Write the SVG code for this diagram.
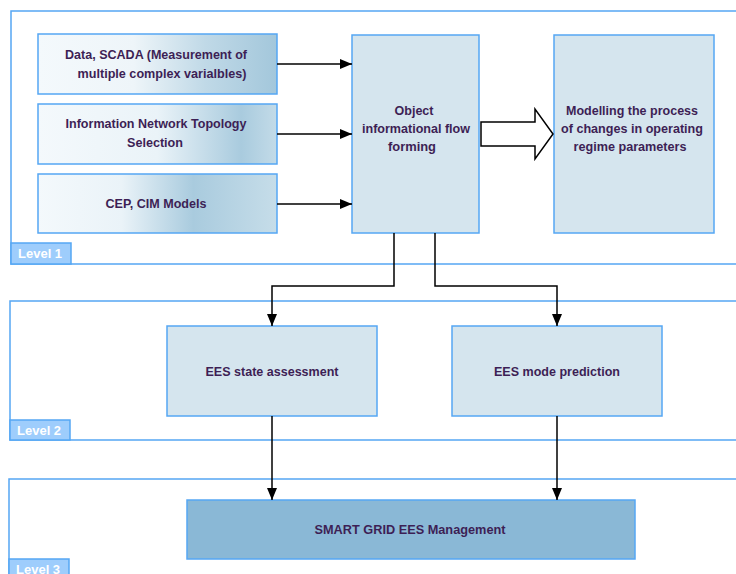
<svg xmlns="http://www.w3.org/2000/svg" width="736" height="574" viewBox="0 0 736 574">
  <style>
    .lvl { fill: none; stroke: #55a7f4; stroke-width: 1.5; }
    .tag { fill: #9ecdfc; stroke: #55a7f4; stroke-width: 1.5; }
    .tagtxt { font-family: "Liberation Sans", Arial, sans-serif; font-weight: bold; font-size: 13px; fill: #ffffff; }
    .node { stroke: #55a7f4; stroke-width: 1.5; }
    .plain { fill: #d5e5ee; }
    .main { fill: #8ab8d6; }
    .txt { font-family: "Liberation Sans", Arial, sans-serif; font-weight: bold; font-size: 13px; fill: #3d1f55; text-anchor: middle; }
    .wire { fill: none; stroke: #000; stroke-width: 1.5; }
  </style>
  <defs>
    <linearGradient id="g1" x1="0" y1="0" x2="1" y2="0">
      <stop offset="0" stop-color="#f4f9fc"/>
      <stop offset="0.4" stop-color="#eef5f9"/>
      <stop offset="0.7" stop-color="#c0d9e7"/>
      <stop offset="1" stop-color="#a3c7db"/>
    </linearGradient>
    <linearGradient id="g2" x1="0" y1="0" x2="1" y2="0">
      <stop offset="0" stop-color="#f4f9fc"/>
      <stop offset="0.5" stop-color="#eaf3f8"/>
      <stop offset="0.85" stop-color="#a9cbde"/>
      <stop offset="1" stop-color="#c3dbe8"/>
    </linearGradient>
    <linearGradient id="g3" x1="0" y1="0" x2="1" y2="0">
      <stop offset="0" stop-color="#f4f9fc"/>
      <stop offset="0.35" stop-color="#eaf3f8"/>
      <stop offset="0.65" stop-color="#a9cbde"/>
      <stop offset="1" stop-color="#c6dde9"/>
    </linearGradient>
    <marker id="arr" viewBox="0 0 12 10" refX="12" refY="5" markerWidth="12" markerHeight="10" markerUnits="userSpaceOnUse" orient="auto">
      <path d="M0,0 L12,5 L0,10 Z" fill="#000"/>
    </marker>
  </defs>

  <!-- level frames -->
  <g id="level1">
    <path class="lvl" d="M740,11 H11 V264 H740"/>
    <rect class="tag" x="11" y="243" width="60" height="21"/>
    <text class="tagtxt" x="18" y="258">Level 1</text>
  </g>
  <g id="level2">
    <path class="lvl" d="M740,301 H10 V440 H740"/>
    <rect class="tag" x="10" y="420" width="60" height="20"/>
    <text class="tagtxt" x="17" y="435">Level 2</text>
  </g>
  <g id="level3">
    <path class="lvl" d="M740,479 H9 V580"/>
    <rect class="tag" x="9" y="559" width="60" height="20"/>
    <text class="tagtxt" x="16" y="574">Level 3</text>
  </g>

  <!-- nodes -->
  <g id="data-scada">
    <rect class="node" fill="url(#g1)" x="38" y="34" width="239" height="60"/>
    <text class="txt" x="156" y="59" textLength="182" lengthAdjust="spacingAndGlyphs">Data, SCADA (Measurement of</text>
    <text class="txt" x="162" y="78" textLength="169" lengthAdjust="spacingAndGlyphs">multiple complex varialbles)</text>
  </g>
  <g id="topology">
    <rect class="node" fill="url(#g2)" x="38" y="104" width="239" height="60"/>
    <text class="txt" x="156" y="128" textLength="181" lengthAdjust="spacingAndGlyphs">Information Network Topology</text>
    <text class="txt" x="155" y="147" textLength="56" lengthAdjust="spacingAndGlyphs">Selection</text>
  </g>
  <g id="cep-cim">
    <rect class="node" fill="url(#g3)" x="38" y="174" width="239" height="59"/>
    <text class="txt" x="156" y="208" textLength="101" lengthAdjust="spacingAndGlyphs">CEP, CIM Models</text>
  </g>
  <g id="flow-forming">
    <rect class="node plain" x="352" y="35" width="127" height="198"/>
    <text class="txt" x="414" y="115" textLength="39" lengthAdjust="spacingAndGlyphs">Object</text>
    <text class="txt" x="416" y="133" textLength="108" lengthAdjust="spacingAndGlyphs">informational flow</text>
    <text class="txt" x="412" y="151" textLength="48" lengthAdjust="spacingAndGlyphs">forming</text>
  </g>
  <g id="modelling">
    <rect class="node plain" x="554" y="35" width="160" height="198"/>
    <text class="txt" x="632" y="115" textLength="132" lengthAdjust="spacingAndGlyphs">Modelling the process</text>
    <text class="txt" x="632" y="133" textLength="142" lengthAdjust="spacingAndGlyphs">of changes in operating</text>
    <text class="txt" x="630" y="151" textLength="113" lengthAdjust="spacingAndGlyphs">regime parameters</text>
  </g>
  <g id="state-assessment">
    <rect class="node plain" x="167" y="326" width="210" height="90"/>
    <text class="txt" x="272" y="376" textLength="133" lengthAdjust="spacingAndGlyphs">EES state assessment</text>
  </g>
  <g id="mode-prediction">
    <rect class="node plain" x="452" y="326" width="210" height="90"/>
    <text class="txt" x="557" y="376" textLength="126" lengthAdjust="spacingAndGlyphs">EES mode prediction</text>
  </g>
  <g id="management">
    <rect class="node main" x="187" y="500" width="448" height="59"/>
    <text class="txt" x="410" y="534" textLength="191" lengthAdjust="spacingAndGlyphs">SMART GRID EES Management</text>
  </g>

  <!-- connectors -->
  <g id="connectors">
    <path class="wire" d="M277,64 H352" marker-end="url(#arr)"/>
    <path class="wire" d="M277,134 H352" marker-end="url(#arr)"/>
    <path class="wire" d="M277,204 H352" marker-end="url(#arr)"/>
    <path d="M481,122 H535 V109 L553,134 L535,159 V146 H481 Z" fill="#fff" stroke="#000" stroke-width="1.5" stroke-linejoin="miter"/>
    <path class="wire" d="M394,233 V286 H272 V326" marker-end="url(#arr)"/>
    <path class="wire" d="M435,233 V286 H557 V326" marker-end="url(#arr)"/>
    <path class="wire" d="M272,416 V500" marker-end="url(#arr)"/>
    <path class="wire" d="M557,416 V500" marker-end="url(#arr)"/>
  </g>
</svg>
